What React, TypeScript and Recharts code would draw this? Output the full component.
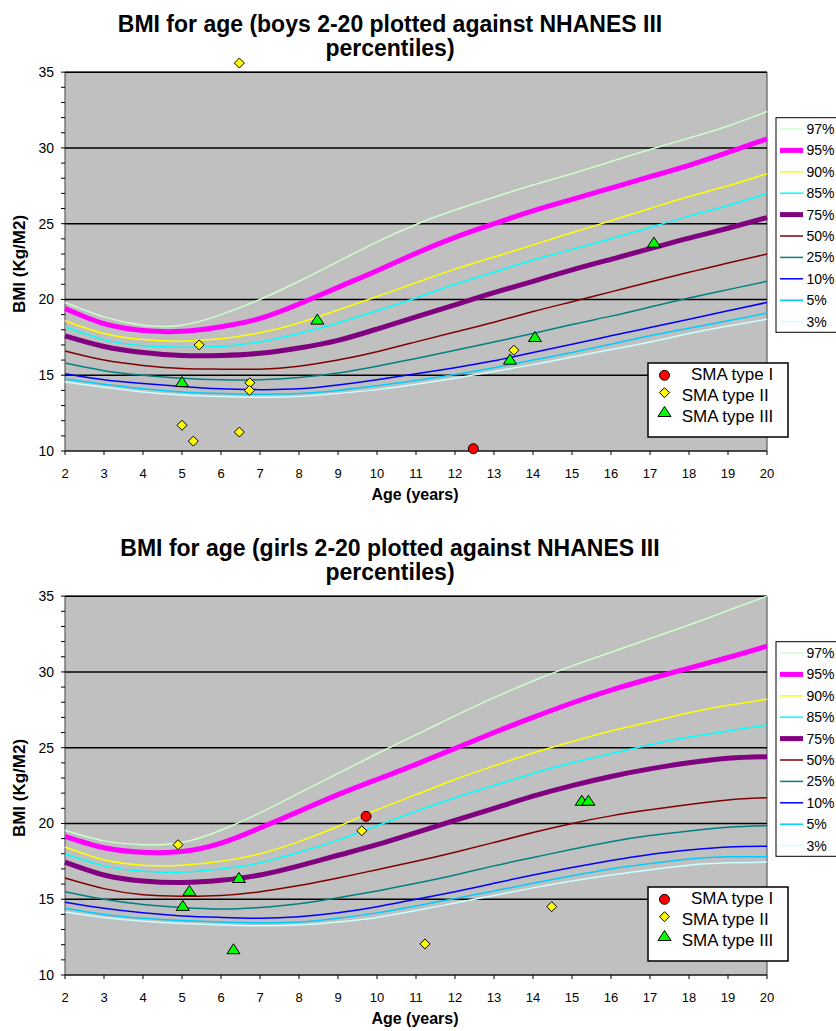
import React from "react";
import {
  ComposedChart,
  Line,
  Scatter,
  XAxis,
  YAxis,
  ReferenceArea,
  ReferenceLine,
} from "recharts";

// ages on the x axis, and tick values for the y axis
const AGES = [2, 3, 4, 5, 6, 7, 8, 9, 10, 11, 12, 13, 14, 15, 16, 17, 18, 19, 20];
const Y_TICKS = [10, 11, 12, 13, 14, 15, 16, 17, 18, 19, 20, 21, 22, 23, 24, 25, 26, 27, 28, 29, 30, 31, 32, 33, 34, 35];
const GRID_VALUES = [15, 20, 25, 30, 35];
const PERCENTILE_LABELS = ["97%", "95%", "90%", "85%", "75%", "50%", "25%", "10%", "5%", "3%"];
const SMA_LABELS = ["SMA type I", "SMA type II", "SMA type III"];

// boys percentile curves (BMI at each age in AGES)
const BOYS_P97 = [19.8, 18.85, 18.3, 18.3, 19.0, 20.0, 21.2, 22.5, 23.8, 24.95, 25.9, 26.75, 27.55, 28.3, 29.1, 29.9, 30.65, 31.45, 32.4];
const BOYS_P95 = [19.4, 18.4, 17.95, 17.9, 18.2, 18.75, 19.7, 20.8, 21.9, 23.05, 24.1, 25.0, 25.85, 26.6, 27.35, 28.1, 28.85, 29.7, 30.6];
const BOYS_P90 = [18.6, 17.75, 17.35, 17.25, 17.4, 17.8, 18.45, 19.3, 20.2, 21.1, 22.0, 22.8, 23.6, 24.4, 25.2, 26.0, 26.8, 27.5, 28.3];
const BOYS_P85 = [18.2, 17.35, 16.95, 16.85, 16.9, 17.2, 17.75, 18.45, 19.25, 20.1, 21.0, 21.8, 22.6, 23.3, 24.0, 24.75, 25.5, 26.2, 27.0];
const BOYS_P75 = [17.6, 16.9, 16.5, 16.3, 16.3, 16.45, 16.8, 17.3, 18.05, 18.85, 19.65, 20.45, 21.2, 21.95, 22.65, 23.35, 24.05, 24.7, 25.4];
const BOYS_P50 = [16.6, 16.0, 15.65, 15.45, 15.4, 15.4, 15.6, 16.0, 16.55, 17.2, 17.85, 18.5, 19.2, 19.85, 20.5, 21.15, 21.8, 22.4, 23.0];
const BOYS_P25 = [15.8, 15.3, 15.0, 14.8, 14.7, 14.7, 14.85, 15.15, 15.6, 16.1, 16.65, 17.2, 17.75, 18.35, 18.9, 19.5, 20.1, 20.65, 21.2];
const BOYS_P10 = [15.1, 14.7, 14.45, 14.25, 14.1, 14.05, 14.1, 14.35, 14.7, 15.1, 15.5, 15.95, 16.5, 17.05, 17.6, 18.15, 18.7, 19.25, 19.8];
const BOYS_P5 = [14.75, 14.4, 14.1, 13.9, 13.8, 13.75, 13.8, 14.0, 14.3, 14.65, 15.05, 15.5, 16.0, 16.5, 17.05, 17.6, 18.1, 18.6, 19.1];
const BOYS_P3 = [14.55, 14.2, 13.9, 13.7, 13.6, 13.55, 13.6, 13.8, 14.05, 14.4, 14.8, 15.25, 15.7, 16.2, 16.7, 17.2, 17.75, 18.25, 18.7];

// girls percentile curves
const GIRLS_P97 = [19.55, 18.85, 18.6, 18.75, 19.55, 20.7, 22.0, 23.3, 24.6, 25.85, 27.1, 28.3, 29.4, 30.4, 31.3, 32.2, 33.1, 34.05, 35.0];
const GIRLS_P95 = [19.15, 18.4, 18.1, 18.15, 18.7, 19.7, 20.8, 21.9, 22.9, 23.9, 24.95, 26.0, 27.0, 27.95, 28.8, 29.55, 30.25, 30.95, 31.7];
const GIRLS_P90 = [18.45, 17.6, 17.25, 17.25, 17.5, 18.0, 18.8, 19.8, 20.9, 21.9, 22.9, 23.8, 24.65, 25.4, 26.1, 26.7, 27.3, 27.8, 28.2];
const GIRLS_P85 = [18.0, 17.2, 16.85, 16.8, 17.0, 17.4, 18.1, 18.9, 19.85, 20.8, 21.7, 22.5, 23.3, 24.0, 24.6, 25.2, 25.7, 26.1, 26.5];
const GIRLS_P75 = [17.45, 16.6, 16.2, 16.1, 16.25, 16.6, 17.2, 17.9, 18.6, 19.4, 20.2, 21.0, 21.8, 22.5, 23.1, 23.6, 24.0, 24.3, 24.4];
const GIRLS_P50 = [16.4, 15.7, 15.3, 15.2, 15.25, 15.5, 15.9, 16.4, 16.95, 17.5, 18.1, 18.75, 19.4, 20.0, 20.5, 20.9, 21.25, 21.55, 21.7];
const GIRLS_P25 = [15.5, 15.0, 14.65, 14.45, 14.35, 14.45, 14.7, 15.1, 15.55, 16.05, 16.6, 17.2, 17.75, 18.3, 18.8, 19.2, 19.5, 19.75, 19.85];
const GIRLS_P10 = [14.8, 14.4, 14.1, 13.9, 13.8, 13.75, 13.85, 14.1, 14.5, 15.0, 15.5, 16.05, 16.6, 17.1, 17.55, 17.95, 18.25, 18.45, 18.5];
const GIRLS_P5 = [14.4, 14.0, 13.75, 13.6, 13.5, 13.45, 13.5, 13.75, 14.1, 14.55, 15.05, 15.55, 16.05, 16.55, 17.0, 17.35, 17.65, 17.8, 17.8];
const GIRLS_P3 = [14.15, 13.8, 13.55, 13.4, 13.3, 13.25, 13.3, 13.5, 13.8, 14.25, 14.75, 15.25, 15.75, 16.2, 16.6, 16.95, 17.25, 17.4, 17.45];

// patient measurements
const BOYS_TYPE1 = [{ age: 12.47, bmi: 10.15 }];
const BOYS_TYPE2 = [
  { age: 6.47, bmi: 35.6 },
  { age: 5.44, bmi: 17.0 },
  { age: 6.74, bmi: 14.5 },
  { age: 6.73, bmi: 14.0 },
  { age: 5.0, bmi: 11.7 },
  { age: 5.29, bmi: 10.65 },
  { age: 6.47, bmi: 11.25 },
  { age: 13.51, bmi: 16.65 },
];
const BOYS_TYPE3 = [
  { age: 5.0, bmi: 14.55 },
  { age: 8.47, bmi: 18.67 },
  { age: 13.41, bmi: 16.03 },
  { age: 14.05, bmi: 17.52 },
  { age: 17.1, bmi: 23.75 },
];

const GIRLS_TYPE1 = [{ age: 9.72, bmi: 20.47 }];
const GIRLS_TYPE2 = [
  { age: 4.9, bmi: 18.6 },
  { age: 9.61, bmi: 19.52 },
  { age: 11.23, bmi: 12.05 },
  { age: 14.48, bmi: 14.51 },
];
const GIRLS_TYPE3 = [
  { age: 5.19, bmi: 15.55 },
  { age: 5.02, bmi: 14.56 },
  { age: 6.46, bmi: 16.4 },
  { age: 6.32, bmi: 11.7 },
  { age: 15.25, bmi: 21.5 },
  { age: 15.42, bmi: 21.5 },
];

const FONT = '"Liberation Sans", Arial, sans-serif';
const CURVE_COLORS = ["#CCFFCC", "#FF00FF", "#FFFF00", "#00FFFF", "#800080", "#800000", "#008080", "#0000FF", "#00CCFF", "#CCFFFF"];
const CURVE_WIDTHS = [1.5, 5, 1.5, 1.5, 5, 1.5, 1.5, 1.5, 1.5, 1.5];

const circleShape = (p: any) => (
  <circle cx={p.cx} cy={p.cy} r={5} fill="#FF0000" stroke="#000" strokeWidth={1} />
);
const diamondShape = (p: any) => (
  <path
    d={`M${p.cx},${p.cy - 5}L${p.cx + 5},${p.cy}L${p.cx},${p.cy + 5}L${p.cx - 5},${p.cy}Z`}
    fill="#FFFF00"
    stroke="#000"
    strokeWidth={1}
  />
);
const triangleShape = (p: any) => (
  <path
    d={`M${p.cx},${p.cy - 5.5}L${p.cx + 6.5},${p.cy + 4.5}L${p.cx - 6.5},${p.cy + 4.5}Z`}
    fill="#00FF00"
    stroke="#000"
    strokeWidth={1}
  />
);
const MARKERS = [circleShape, diamondShape, triangleShape];

function YTick(props: any) {
  const { x, y, payload } = props;
  const major = payload.value % 5 === 0;
  return (
    <g>
      <line x1={x - 4} x2={x} y1={y} y2={y} stroke="#000" strokeWidth={1} />
      {major && (
        <text x={x - 11} y={y + 5} textAnchor="end" fontSize={14} fontFamily={FONT} fill="#000">
          {payload.value}
        </text>
      )}
    </g>
  );
}

function BmiPanel({
  title,
  curves,
  points,
  height,
}: {
  title: string;
  curves: number[][];
  points: { age: number; bmi: number }[][];
  height: number;
}) {
  const rows = AGES.map((age, i) => {
    const row: Record<string, number> = { age };
    curves.forEach((c, k) => {
      row[`p${k}`] = c[i];
    });
    return row;
  });

  return (
    <div style={{ position: "relative", width: 836, height }}>
      <ComposedChart
        width={836}
        height={height}
        data={rows}
        margin={{ top: 57, right: 69, bottom: height - 451 - 30, left: 0 }}
      >
        <XAxis
          dataKey="age"
          type="number"
          domain={[2, 20]}
          ticks={AGES}
          interval={0}
          height={30}
          stroke="#000"
          tickSize={4}
          tickMargin={14}
          tick={{ fontSize: 13, fill: "#000", fontFamily: FONT }}
        />
        <YAxis
          type="number"
          domain={[10, 36]}
          ticks={Y_TICKS}
          interval={0}
          width={65}
          axisLine={false}
          tickLine={false}
          tickSize={0}
          tickMargin={0}
          tick={(p: any) => <YTick {...p} />}
        />
        <ReferenceArea
          x1={2}
          x2={20}
          y1={10}
          y2={35}
          fill="#C0C0C0"
          fillOpacity={1}
          stroke="#404040"
          strokeWidth={1}
          zIndex={-100}
        />
        {GRID_VALUES.map((v) => (
          <ReferenceLine key={v} y={v} stroke="#000" strokeWidth={1.5} zIndex={-50} />
        ))}
        {curves.map((_, k) => (
          <Line
            key={k}
            dataKey={`p${k}`}
            type="natural"
            stroke={CURVE_COLORS[k]}
            strokeWidth={CURVE_WIDTHS[k]}
            dot={false}
            activeDot={false}
            isAnimationActive={false}
          />
        ))}
        {points.map((pts, k) => (
          <Scatter
            key={k}
            data={pts}
            dataKey="bmi"
            shape={MARKERS[k]}
            isAnimationActive={false}
          />
        ))}
      </ComposedChart>

      <svg
        width={836}
        height={height}
        style={{ position: "absolute", left: 0, top: 0, pointerEvents: "none" }}
        fontFamily={FONT}
      >
        <text x={390} y={32} textAnchor="middle" fontSize={23} fontWeight="bold">
          {title}
        </text>
        <text x={390} y={56} textAnchor="middle" fontSize={23} fontWeight="bold">
          percentiles)
        </text>
        <text transform="translate(25,264) rotate(-90)" textAnchor="middle" fontSize={17} fontWeight="bold">
          BMI (Kg/M2)
        </text>
        <text x={415} y={500} textAnchor="middle" fontSize={16} fontWeight="bold">
          Age (years)
        </text>

        <rect x={776} y={117.7} width={80} height={214.6} fill="#fff" stroke="#000" strokeWidth={1} />
        {PERCENTILE_LABELS.map((label, i) => {
          const cy = 129 + i * 21.4;
          return (
            <g key={label}>
              <line x1={780} x2={803} y1={cy} y2={cy} stroke={CURVE_COLORS[i]} strokeWidth={CURVE_WIDTHS[i]} />
              <text x={806.5} y={cy + 5} fontSize={14}>
                {label}
              </text>
            </g>
          );
        })}

        <rect x={648} y={363} width={140} height={74} fill="#fff" stroke="#000" strokeWidth={1.5} />
        {SMA_LABELS.map((label, i) => {
          const markerY = [375.3, 392.7, 412][i];
          const baseY = [380.3, 401, 422][i];
          const textX = [691, 681.7, 681.7][i];
          const Marker = MARKERS[i];
          return (
            <g key={label}>
              <Marker cx={664.5} cy={markerY} />
              <text x={textX} y={baseY} fontSize={17}>
                {label}
              </text>
            </g>
          );
        })}
      </svg>
    </div>
  );
}

export default function App() {
  return (
    <div style={{ width: 836, height: 1031, overflow: "hidden", background: "#fff" }}>
      <style>{"body{margin:0}"}</style>
      <BmiPanel
        title="BMI for age (boys 2-20 plotted against NHANES III"
        curves={[BOYS_P97, BOYS_P95, BOYS_P90, BOYS_P85, BOYS_P75, BOYS_P50, BOYS_P25, BOYS_P10, BOYS_P5, BOYS_P3]}
        points={[BOYS_TYPE1, BOYS_TYPE2, BOYS_TYPE3]}
        height={524}
      />
      <BmiPanel
        title="BMI for age (girls 2-20 plotted against NHANES III"
        curves={[GIRLS_P97, GIRLS_P95, GIRLS_P90, GIRLS_P85, GIRLS_P75, GIRLS_P50, GIRLS_P25, GIRLS_P10, GIRLS_P5, GIRLS_P3]}
        points={[GIRLS_TYPE1, GIRLS_TYPE2, GIRLS_TYPE3]}
        height={507}
      />
    </div>
  );
}
